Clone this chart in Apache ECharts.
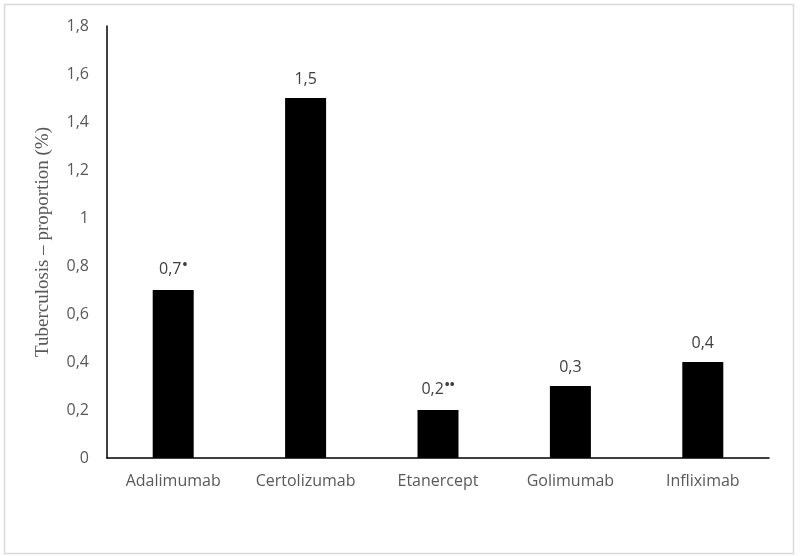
<!DOCTYPE html>
<html>
<head>
<meta charset="utf-8">
<script src="https://cdn.jsdelivr.net/npm/echarts@6/dist/echarts.min.js"></script>
<style>
  html, body { margin: 0; padding: 0; background: #fff; }
  #chart { width: 800px; height: 556px; }
</style>
</head>
<body>
<div id="chart"></div>
<script>
var categories = ['Adalimumab', 'Certolizumab', 'Etanercept', 'Golimumab', 'Infliximab'];
var values = [0.7, 1.5, 0.2, 0.3, 0.4];
var marks = ['•', '', '••', '', ''];   // significance dots after the value
var yTicks = [0, 0.2, 0.4, 0.6, 0.8, 1, 1.2, 1.4, 1.6, 1.8];

function comma(v) {
    return String(Math.round(v * 10) / 10).replace('.', ',');
}

var myChart = echarts.init(document.getElementById('chart'));

var option = {
    backgroundColor: '#fff',
    animation: false,
    graphic: [{
        type: 'rect',
        shape: { x: 4.5, y: 4.5, width: 789, height: 549 },
        style: { fill: 'none', stroke: '#d9d9d9', lineWidth: 1.5 }
    }],
    grid: { left: 107, right: 31, top: 26, bottom: 98 },
    xAxis: {
        type: 'category',
        data: categories,
        axisLine: { lineStyle: { color: '#000', width: 1.5 } },
        axisTick: { show: false },
        axisLabel: {
            color: '#595959',
            fontFamily: 'Open Sans',
            fontSize: 16,
            margin: 15
        }
    },
    yAxis: {
        type: 'value',
        min: yTicks[0],
        max: yTicks[yTicks.length - 1],
        interval: 0.2,
        name: 'Tuberculosis – proportion (%)',
        nameLocation: 'middle',
        nameGap: 54,
        nameTextStyle: {
            color: '#595959',
            fontFamily: 'Liberation Serif',
            fontSize: 19
        },
        axisLine: { show: true, lineStyle: { color: '#000', width: 1.5 } },
        axisTick: { show: false },
        splitLine: { show: false },
        axisLabel: {
            color: '#595959',
            fontFamily: 'Open Sans',
            fontSize: 16,
            margin: 18,
            formatter: comma
        }
    },
    series: [{
        type: 'bar',
        data: values,
        barWidth: 41,
        itemStyle: { color: '#000' },
        label: {
            show: true,
            position: 'top',
            distance: 11,
            color: '#404040',
            fontFamily: 'Open Sans',
            fontSize: 16,
            formatter: function (p) {
                var m = marks[p.dataIndex];
                return comma(p.value) + (m ? '{sup|' + m + '}' : '');
            },
            rich: {
                sup: {
                    fontSize: 13,
                    fontWeight: 'bold',
                    color: '#404040',
                    padding: [0, 0, 7, 1]
                }
            }
        }
    }]
};

myChart.setOption(option);
</script>
</body>
</html>
